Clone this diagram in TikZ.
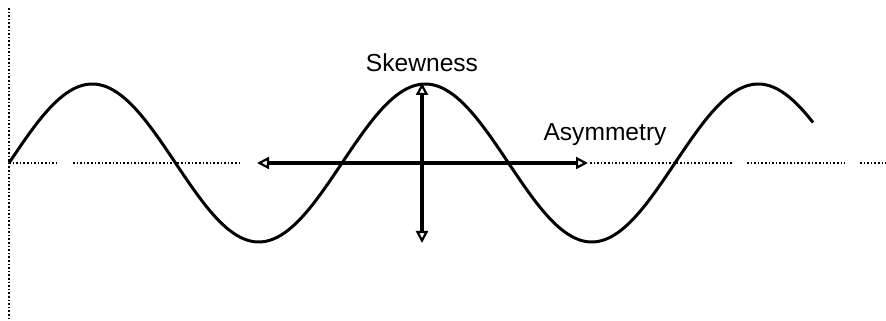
\documentclass[tikz,border=0pt]{standalone}
\usepackage{fontspec}
\setmainfont{Liberation Sans}
\usetikzlibrary{arrows.meta}

\begin{document}
\begin{tikzpicture}[
  x=1pt, y=1pt,
  axis/.style={line width=1.6pt, dotted},
  wave/.style={line width=3pt, line join=round},
  arr/.style={{Triangle[open, length=12pt, width=12pt, line width=2.2pt]}-{Triangle[open, length=12pt, width=12pt, line width=2.2pt]}, line width=3.4pt},
  lbl/.style={font=\fontsize{24.6}{28}\selectfont, inner sep=0pt}
]
  \useasboundingbox (0,0) rectangle (886,321);

  % dotted axes
  \coordinate (vtop) at (9,313);
  \coordinate (vbot) at (9,3);
  \draw[axis] (vtop) -- (vbot);
  \draw[axis] (9,158) -- (59,158);
  \draw[axis] (73,158) -- (239,158);
  \draw[axis] (590,158) -- (732,158);
  \draw[axis] (747,158) -- (845,158);
  \draw[axis] (860,158) -- (886,158);

  % wave
  \draw[wave] plot[domain=9:813, samples=240, smooth] (\x, {158 + 79*sin(1.08108*(\x-9))});

  % arrows
  \coordinate (aleft) at (257,158);
  \coordinate (aright) at (588,158);
  \coordinate (stop) at (422,238);
  \coordinate (sbot) at (422,78);
  \draw[arr] (aleft) -- (aright);
  \draw[arr] (sbot) -- (stop);

  % labels
  \node[lbl] (skew) at (422,258) {Skewness};
  \node[lbl] (asym) at (605,186) {Asymmetry};
\end{tikzpicture}
\end{document}
